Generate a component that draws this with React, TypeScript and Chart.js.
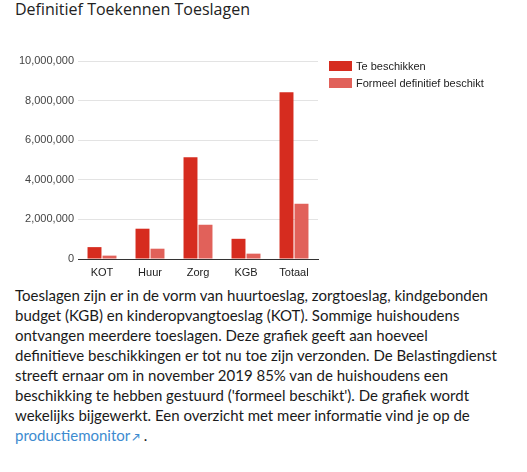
import React, { useEffect, useRef } from 'react';
import { Chart, registerables } from 'chart.js';

Chart.register(...registerables);

const title = 'Definitief Toekennen Toeslagen';
const categories = ['KOT', 'Huur', 'Zorg', 'KGB', 'Totaal'];
const seriesNames = ['Te beschikken', 'Formeel definitief beschikt'];
const teBeschikken = [600000, 1530000, 5140000, 1020000, 8420000];
const formeelBeschikt = [170000, 520000, 1730000, 270000, 2790000];
const seriesColors = ['#d62c1f', '#e1615a'];
const yMin = 0;
const yMax = 10000000;
const yStep = 2000000;

const paragraphLines = [
  'Toeslagen zijn er in de vorm van huurtoeslag, zorgtoeslag, kindgebonden',
  'budget (KGB) en kinderopvangtoeslag (KOT). Sommige huishoudens',
  'ontvangen meerdere toeslagen. Deze grafiek geeft aan hoeveel',
  'definitieve beschikkingen er tot nu toe zijn verzonden. De Belastingdienst',
  'streeft ernaar om in november 2019 85% van de huishoudens een',
  "beschikking te hebben gestuurd ('formeel beschikt'). De grafiek wordt",
  'wekelijks bijgewerkt. Een overzicht met meer informatie vind je op de',
];
const linkText = 'productiemonitor';

const CANVAS_W = 527;
const CANVAS_H = 245;

export default function App() {
  const canvasRef = useRef<HTMLCanvasElement | null>(null);

  useEffect(() => {
    const canvas = canvasRef.current;
    if (!canvas) return;
    const chart = new Chart(canvas, {
      type: 'bar',
      data: {
        labels: categories,
        datasets: [
          {
            label: seriesNames[0],
            data: teBeschikken,
            backgroundColor: seriesColors[0],
            borderWidth: 0,
            barPercentage: 0.93,
            categoryPercentage: 0.625,
          },
          {
            label: seriesNames[1],
            data: formeelBeschikt,
            backgroundColor: seriesColors[1],
            borderWidth: 0,
            barPercentage: 0.93,
            categoryPercentage: 0.625,
          },
        ],
      },
      options: {
        animation: false,
        responsive: false,
        maintainAspectRatio: false,
        devicePixelRatio: 1,
        layout: { padding: { left: 0, right: 209, top: 21, bottom: 0 } },
        plugins: {
          legend: { display: false },
          tooltip: { enabled: false },
          title: { display: false },
        },
        scales: {
          x: {
            grid: { display: false, drawTicks: false },
            border: { display: true, color: '#333333', width: 1 },
            ticks: {
              color: '#222222',
              font: { family: 'Arial, "Liberation Sans", sans-serif', size: 11 },
              padding: 7,
            },
            afterFit: (scale: any) => {
              scale.height = 26;
            },
          },
          y: {
            min: yMin,
            max: yMax,
            grid: { color: '#e3e3e3', lineWidth: 1, drawTicks: false },
            border: { display: false },
            ticks: {
              stepSize: yStep,
              color: '#444444',
              font: { family: 'Arial, "Liberation Sans", sans-serif', size: 11 },
              padding: 4,
              callback: (v: any) => Number(v).toLocaleString('en-US'),
            },
            afterFit: (scale: any) => {
              scale.width = 78;
            },
          },
        },
      },
    });
    return () => chart.destroy();
  }, []);

  const legendText: React.CSSProperties = {
    position: 'absolute',
    left: 356,
    fontFamily: 'Arial, "Liberation Sans", sans-serif',
    fontSize: 11,
    color: '#222',
    lineHeight: '14px',
    whiteSpace: 'nowrap',
  };

  return (
    <div
      style={{
        position: 'absolute',
        left: 0,
        top: 0,
        width: 527,
        height: 472,
        background: '#fff',
        overflow: 'hidden',
      }}
    >
      <div
        style={{
          position: 'absolute',
          left: 15,
          top: -1,
          fontFamily: '"Open Sans", sans-serif',
          fontSize: 16,
          lineHeight: '20px',
          color: '#222',
          whiteSpace: 'nowrap',
        }}
      >
        {title}
      </div>
      <canvas
        ref={canvasRef}
        width={CANVAS_W}
        height={CANVAS_H}
        style={{ position: 'absolute', left: 0, top: 40, width: CANVAS_W, height: CANVAS_H }}
      />
      <div style={{ position: 'absolute', left: 329, top: 61, width: 23, height: 10, background: seriesColors[0] }} />
      <div style={{ ...legendText, top: 59 }}>{seriesNames[0]}</div>
      <div style={{ position: 'absolute', left: 329, top: 78, width: 23, height: 10, background: seriesColors[1] }} />
      <div style={{ ...legendText, top: 76 }}>{seriesNames[1]}</div>
      <div
        style={{
          position: 'absolute',
          left: 15,
          top: 285,
          fontFamily: 'Lato, sans-serif',
          fontSize: 15,
          lineHeight: '20px',
          color: '#1a1a1a',
        }}
      >
        {paragraphLines.map((l, i) => (
          <div key={i} style={{ whiteSpace: 'nowrap' }}>
            {l}
          </div>
        ))}
        <div style={{ whiteSpace: 'nowrap' }}>
          <span style={{ color: '#3d8bd0' }}>{linkText}</span>
          <span style={{ color: '#3d8bd0', fontSize: 10, fontWeight: 'bold', marginLeft: 2 }}>↗</span>
          <span> .</span>
        </div>
      </div>
    </div>
  );
}
